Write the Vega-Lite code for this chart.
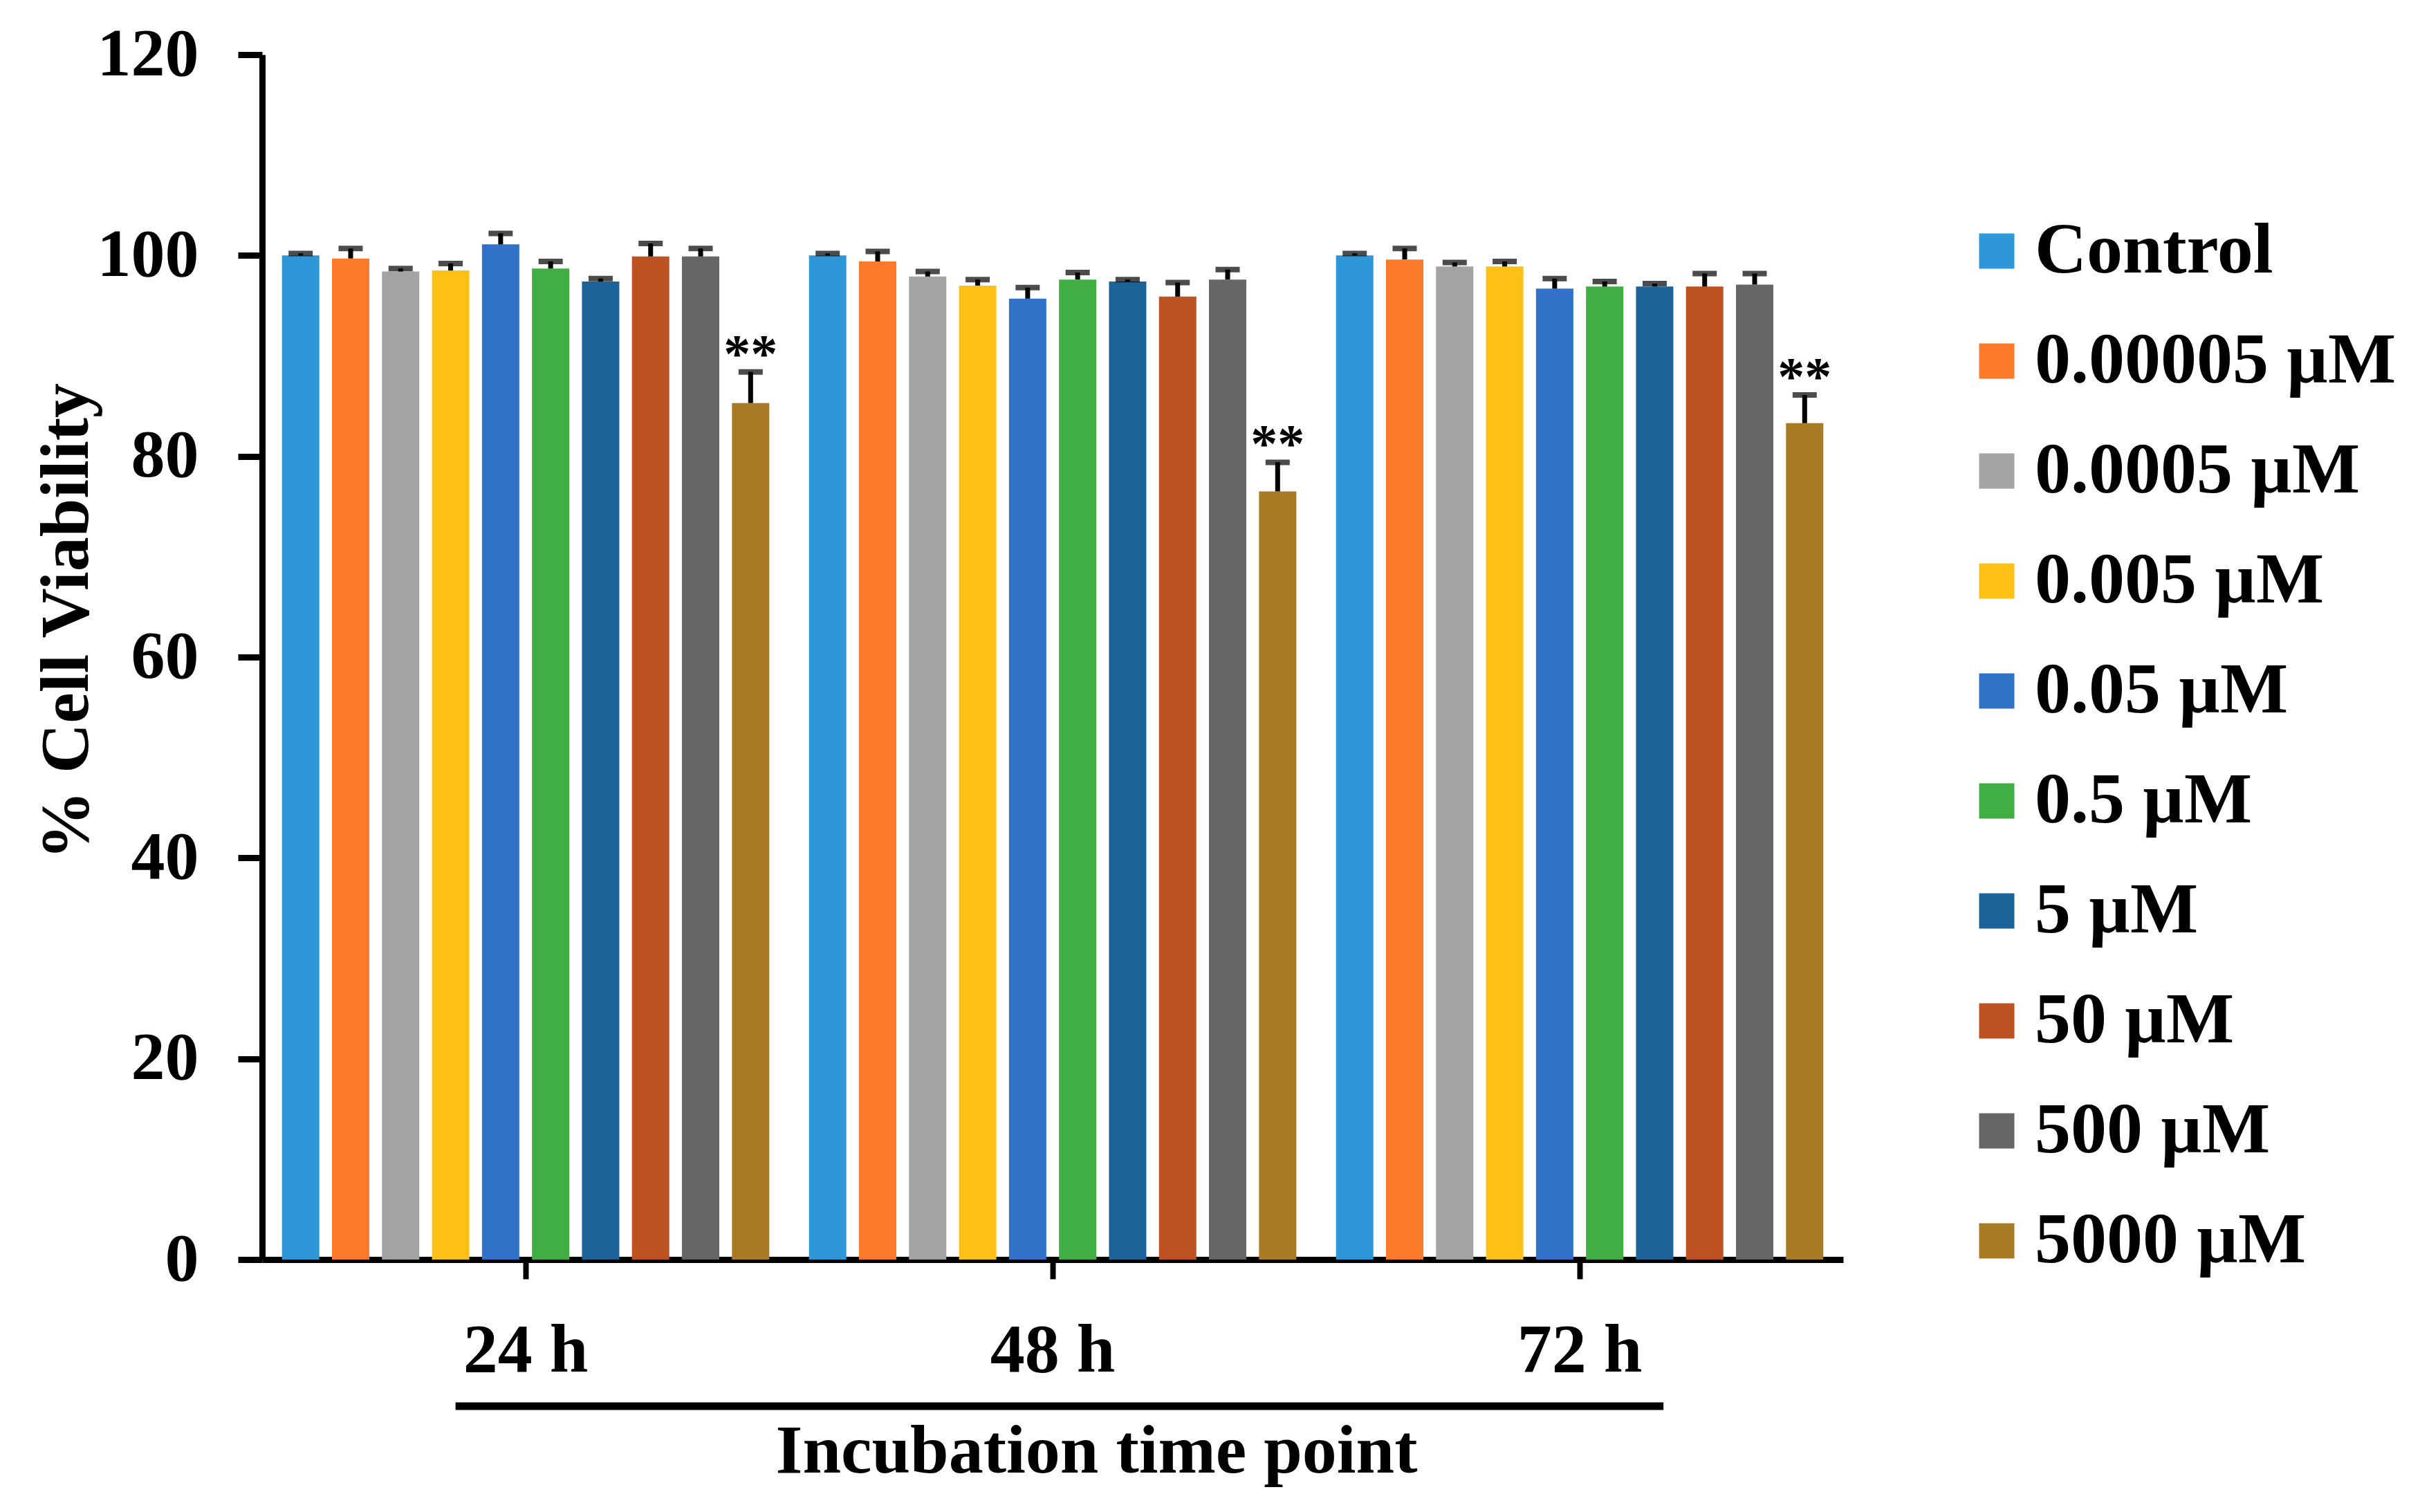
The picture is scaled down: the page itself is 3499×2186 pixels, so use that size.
{
  "$schema": "https://vega.github.io/schema/vega-lite/v6.json",
  "width": 2286,
  "height": 1742,
  "autosize": {"type": "none"},
  "padding": {"left": 379, "top": 79, "right": 834, "bottom": 365},
  "background": "white",
  "config": {
    "view": {"stroke": null},
    "font": "Liberation Serif",
    "axis": {
      "labelFont": "Liberation Serif",
      "titleFont": "Liberation Serif",
      "labelFontWeight": "bold",
      "titleFontWeight": "bold",
      "labelColor": "black",
      "titleColor": "black",
      "domainColor": "black",
      "tickColor": "black",
      "grid": false
    }
  },
  "datasets": {
    "viability": [
      {"time": "24 h", "conc": "Control", "value": 100.0, "upper": 100.2, "sig": ""},
      {"time": "24 h", "conc": "0.00005 µM", "value": 99.7, "upper": 100.7, "sig": ""},
      {"time": "24 h", "conc": "0.0005 µM", "value": 98.4, "upper": 98.7, "sig": ""},
      {"time": "24 h", "conc": "0.005 µM", "value": 98.5, "upper": 99.2, "sig": ""},
      {"time": "24 h", "conc": "0.05 µM", "value": 101.1, "upper": 102.2, "sig": ""},
      {"time": "24 h", "conc": "0.5 µM", "value": 98.7, "upper": 99.4, "sig": ""},
      {"time": "24 h", "conc": "5 µM", "value": 97.4, "upper": 97.7, "sig": ""},
      {"time": "24 h", "conc": "50 µM", "value": 99.9, "upper": 101.2, "sig": ""},
      {"time": "24 h", "conc": "500 µM", "value": 99.9, "upper": 100.7, "sig": ""},
      {"time": "24 h", "conc": "5000 µM", "value": 85.3, "upper": 88.4, "sig": "**"},
      {"time": "48 h", "conc": "Control", "value": 100.0, "upper": 100.2, "sig": ""},
      {"time": "48 h", "conc": "0.00005 µM", "value": 99.4, "upper": 100.4, "sig": ""},
      {"time": "48 h", "conc": "0.0005 µM", "value": 97.9, "upper": 98.4, "sig": ""},
      {"time": "48 h", "conc": "0.005 µM", "value": 97.0, "upper": 97.6, "sig": ""},
      {"time": "48 h", "conc": "0.05 µM", "value": 95.7, "upper": 96.8, "sig": ""},
      {"time": "48 h", "conc": "0.5 µM", "value": 97.6, "upper": 98.3, "sig": ""},
      {"time": "48 h", "conc": "5 µM", "value": 97.4, "upper": 97.6, "sig": ""},
      {"time": "48 h", "conc": "50 µM", "value": 95.9, "upper": 97.3, "sig": ""},
      {"time": "48 h", "conc": "500 µM", "value": 97.6, "upper": 98.6, "sig": ""},
      {"time": "48 h", "conc": "5000 µM", "value": 76.5, "upper": 79.4, "sig": "**"},
      {"time": "72 h", "conc": "Control", "value": 100.0, "upper": 100.2, "sig": ""},
      {"time": "72 h", "conc": "0.00005 µM", "value": 99.6, "upper": 100.7, "sig": ""},
      {"time": "72 h", "conc": "0.0005 µM", "value": 98.9, "upper": 99.3, "sig": ""},
      {"time": "72 h", "conc": "0.005 µM", "value": 98.9, "upper": 99.4, "sig": ""},
      {"time": "72 h", "conc": "0.05 µM", "value": 96.7, "upper": 97.7, "sig": ""},
      {"time": "72 h", "conc": "0.5 µM", "value": 96.9, "upper": 97.4, "sig": ""},
      {"time": "72 h", "conc": "5 µM", "value": 96.9, "upper": 97.2, "sig": ""},
      {"time": "72 h", "conc": "50 µM", "value": 96.9, "upper": 98.2, "sig": ""},
      {"time": "72 h", "conc": "500 µM", "value": 97.1, "upper": 98.2, "sig": ""},
      {"time": "72 h", "conc": "5000 µM", "value": 83.3, "upper": 86.1, "sig": "**"}
    ],
    "bracket": [
      {"from": 0.367, "to": 2.659, "level": -14.6}
    ]
  },
  "layer": [
    {
      "data": {"name": "viability"},
      "encoding": {
        "x": {
          "field": "time",
          "type": "nominal",
          "scale": {"type": "band", "paddingInner": 0, "paddingOuter": 0},
          "axis": {
            "labelAngle": 0,
            "labelFontSize": 100,
            "labelLimit": 0,
            "labelBaseline": "alphabetic",
            "labelPadding": 133,
            "tickSize": 28,
            "tickWidth": 8,
            "domainWidth": 9,
            "title": "Incubation time point",
            "titleFontSize": 100,
            "titleLimit": 0,
            "titleBaseline": "alphabetic",
            "titleAlign": "center",
            "titleX": 1206,
            "titleY": 307
          }
        },
        "xOffset": {
          "field": "conc",
          "type": "nominal",
          "sort": ["Control", "0.00005 µM", "0.0005 µM", "0.005 µM", "0.05 µM", "0.5 µM", "5 µM", "50 µM", "500 µM", "5000 µM"],
          "scale": {"paddingInner": 0.253, "paddingOuter": 0.397}
        }
      },
      "layer": [
        {
          "mark": {"type": "bar"},
          "encoding": {
            "y": {
              "field": "value",
              "type": "quantitative",
              "scale": {"domain": [0, 120], "nice": false, "zero": true},
              "axis": {
                "values": [0, 20, 40, 60, 80, 100, 120],
                "labelFontSize": 98,
                "labelPadding": 57,
                "tickSize": 35,
                "tickWidth": 9,
                "domainWidth": 9,
                "title": "% Cell Viability",
                "titleFontSize": 100,
                "titleLimit": 0,
                "titleAngle": -90,
                "titleBaseline": "alphabetic",
                "titleAlign": "center",
                "titleX": -253,
                "titleY": 819
              }
            },
            "color": {
              "field": "conc",
              "type": "nominal",
              "scale": {
                "domain": ["Control", "0.00005 µM", "0.0005 µM", "0.005 µM", "0.05 µM", "0.5 µM", "5 µM", "50 µM", "500 µM", "5000 µM"],
                "range": ["#2e97d8", "#fc7a2a", "#a3a3a3", "#fcc114", "#2f72c8", "#40ae43", "#1b6399", "#bd5120", "#666666", "#a97b24"]
              },
              "legend": {
                "title": null,
                "orient": "none",
                "legendX": 2456,
                "legendY": 232,
                "padding": 0,
                "symbolType": "square",
                "symbolSize": 2601,
                "symbolStrokeWidth": 0,
                "labelFont": "Liberation Serif",
                "labelFontWeight": "bold",
                "labelFontSize": 104,
                "labelColor": "black",
                "labelOffset": 3,
                "labelLimit": 0,
                "rowPadding": 55
              }
            }
          }
        },
        {
          "mark": {"type": "rule", "color": "black", "strokeWidth": 7},
          "encoding": {
            "y": {"field": "value", "type": "quantitative"},
            "y2": {"field": "upper"}
          }
        },
        {
          "mark": {"type": "tick", "color": "black", "size": 35, "thickness": 8},
          "encoding": {
            "y": {"field": "upper", "type": "quantitative"}
          }
        },
        {
          "mark": {"type": "text", "color": "black", "fontSize": 78, "fontWeight": "bold", "baseline": "alphabetic", "align": "center", "dy": -1},
          "encoding": {
            "y": {"field": "upper", "type": "quantitative"},
            "text": {"field": "sig"}
          }
        }
      ]
    },
    {
      "data": {"name": "bracket"},
      "mark": {"type": "rule", "color": "black", "strokeWidth": 11, "clip": false},
      "encoding": {
        "x": {"field": "from", "type": "quantitative", "scale": {"domain": [0, 3], "nice": false}, "axis": null},
        "x2": {"field": "to"},
        "y": {"field": "level", "type": "quantitative", "title": "% Cell Viability"}
      }
    }
  ],
  "resolve": {"scale": {"x": "independent"}}
}
